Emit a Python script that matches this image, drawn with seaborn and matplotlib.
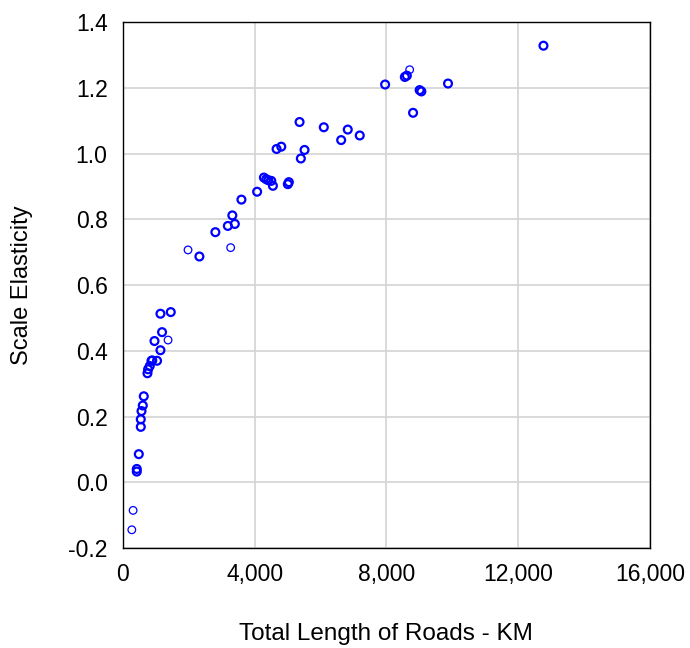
import pandas as pd
import seaborn as sns
import matplotlib
import matplotlib.pyplot as plt
from matplotlib.ticker import StrMethodFormatter

matplotlib.use("Agg")

# points drawn with a heavy outline
road_km = [424, 424, 485, 545, 545, 567, 606, 636, 748, 767, 818, 870, 894,
           1039, 1142, 961, 1191, 1142, 1455, 2324, 2809, 3188, 3400, 3324,
           3600, 4076, 4282, 4354, 4415, 4506, 4555, 5009, 5039, 4667, 4809,
           5364, 5403, 5515, 6100, 6627, 6827, 7191, 7961, 8560, 8620, 8809,
           9009, 9061, 9870, 12767]
elasticity = [0.033, 0.041, 0.086, 0.169, 0.192, 0.217, 0.234, 0.262, 0.332,
              0.344, 0.354, 0.370, 0.371, 0.370, 0.402, 0.430, 0.457, 0.513,
              0.518, 0.687, 0.761, 0.780, 0.786, 0.812, 0.860, 0.884, 0.927,
              0.922, 0.919, 0.917, 0.902, 0.907, 0.913, 1.014, 1.021, 1.096,
              0.985, 1.011, 1.080, 1.041, 1.073, 1.055, 1.210, 1.233, 1.237,
              1.124, 1.193, 1.189, 1.213, 1.328]

# points drawn with a thin outline
road_km_thin = [273, 312, 1373, 1979, 3273, 8706]
elasticity_thin = [-0.144, -0.085, 0.433, 0.707, 0.714, 1.255]

sns.set_style("white")
plt.rcParams['font.family'] = ['Liberation Sans', 'DejaVu Sans']
plt.rcParams['axes.unicode_minus'] = False
plt.rcParams['axes.labelcolor'] = 'black'

fig = plt.figure(figsize=(6.9, 6.48), dpi=100)
ax = fig.add_axes([0.178, 0.154, 0.764, 0.812])

sns.scatterplot(x=road_km, y=elasticity, ax=ax, marker='o', s=32,
                facecolor='none', edgecolor='#0000ff', linewidth=1.6)
sns.scatterplot(x=road_km_thin, y=elasticity_thin, ax=ax, marker='o', s=30,
                facecolor='none', edgecolor='#0000ff', linewidth=0.9)

ax.set_xlim(0, 16000)
ax.set_ylim(-0.2, 1.4)
ax.set_xticks([0, 4000, 8000, 12000, 16000])
ax.set_yticks([-0.2, 0.0, 0.2, 0.4, 0.6, 0.8, 1.0, 1.2, 1.4])
ax.xaxis.set_major_formatter(StrMethodFormatter('{x:,.0f}'))
ax.yaxis.set_major_formatter(StrMethodFormatter('{x:.1f}'))

ax.grid(True, color='#d3d3d3', linewidth=1.2)
ax.set_axisbelow(True)
for sp in ax.spines.values():
    sp.set_color('black')
    sp.set_linewidth(1.0)
ax.tick_params(axis='both', direction='out', length=7, width=1,
               color='black', labelsize=16.5, labelcolor='black', pad=4)

ax.set_xlabel("Total Length of Roads - KM", fontsize=17.5, color='black')
ax.set_ylabel("Scale Elasticity", fontsize=17, color='black')
ax.xaxis.set_label_coords(0.5, -0.142)
ax.yaxis.set_label_coords(-0.17, 0.5)

fig.savefig("out.png", dpi=100)
